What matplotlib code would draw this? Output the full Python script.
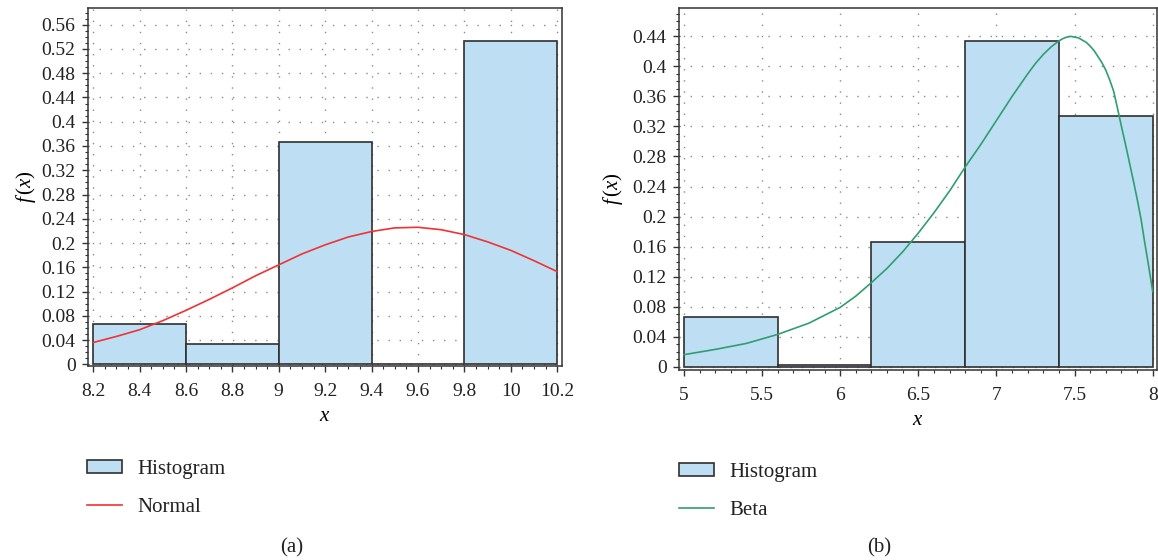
import matplotlib
matplotlib.use("Agg")
import matplotlib.pyplot as plt
from matplotlib.ticker import MultipleLocator, FuncFormatter
from matplotlib.patches import Patch
from matplotlib.lines import Line2D

plt.rcParams['font.family'] = ['Liberation Serif', 'DejaVu Serif']
plt.rcParams['mathtext.fontset'] = 'custom'
plt.rcParams['mathtext.rm'] = 'Liberation Serif'
plt.rcParams['mathtext.it'] = 'Liberation Serif:italic'

# ---- data: panel (a) ----
a_bin_edges = [8.2, 8.6, 9.0, 9.4, 9.8, 10.2]
a_heights = [0.0667, 0.0333, 0.3667, 0.0, 0.5333]
a_curve_x = [8.2, 8.3, 8.4, 8.5, 8.6, 8.7, 8.8, 8.9, 9.0, 9.1, 9.2, 9.3, 9.4,
             9.5, 9.6, 9.7, 9.8, 9.9, 10.0, 10.1, 10.2]
a_curve_y = [0.036, 0.046, 0.057, 0.072, 0.089, 0.107, 0.126, 0.146, 0.164,
             0.182, 0.197, 0.210, 0.219, 0.225, 0.226, 0.222, 0.214, 0.202,
             0.188, 0.171, 0.153]
a_curve_label = "Normal"

# ---- data: panel (b) ----
b_bin_edges = [5.0, 5.6, 6.2, 6.8, 7.4, 8.0]
b_heights = [0.0667, 0.002, 0.1667, 0.4333, 0.3333]
b_curve_x = [5.0, 5.2, 5.4, 5.6, 5.8, 6.0, 6.1, 6.2, 6.3, 6.4, 6.5, 6.6, 6.7,
             6.8, 6.85, 6.9, 6.95, 7.0, 7.05, 7.1, 7.15, 7.2, 7.25, 7.3, 7.35,
             7.4, 7.425, 7.45, 7.475, 7.5, 7.525, 7.55, 7.575, 7.6, 7.625,
             7.65, 7.675, 7.7, 7.725, 7.75, 7.775, 7.8, 7.825, 7.85, 7.875,
             7.9, 7.925, 7.95, 7.975, 8.0]
b_curve_y = [0.016, 0.023, 0.031, 0.043, 0.058, 0.079, 0.094, 0.112, 0.131,
             0.153, 0.178, 0.205, 0.234, 0.266, 0.281, 0.296, 0.312, 0.328,
             0.344, 0.360, 0.375, 0.390, 0.404, 0.416, 0.426, 0.434, 0.437,
             0.439, 0.440, 0.439, 0.438, 0.435, 0.432, 0.427, 0.421, 0.413,
             0.405, 0.395, 0.382, 0.367, 0.344, 0.320, 0.297, 0.273, 0.249,
             0.224, 0.197, 0.164, 0.133, 0.100]
b_curve_label = "Beta"

hist_label = "Histogram"
captions = ["(a)", "(b)"]

BAR_FILL = '#bedff3'
BAR_EDGE = '#2f2f2f'
RED = '#f03232'
GREEN = '#2f9e70'
SPINE = '#333333'

fig = plt.figure(figsize=(11.58, 5.6), dpi=100)

def fmt(v, pos):
    return f"{round(v, 6):g}"

def style_axes(ax, xlim, ylim, xmaj, xmin, ymaj, ymin):
    ax.set_xlim(*xlim)
    ax.set_ylim(*ylim)
    ax.xaxis.set_major_locator(MultipleLocator(xmaj))
    ax.xaxis.set_minor_locator(MultipleLocator(xmin))
    ax.yaxis.set_major_locator(MultipleLocator(ymaj))
    ax.yaxis.set_minor_locator(MultipleLocator(ymin))
    ax.xaxis.set_major_formatter(FuncFormatter(fmt))
    ax.yaxis.set_major_formatter(FuncFormatter(fmt))
    ax.tick_params(which='major', direction='out', length=4, width=1,
                   color=SPINE, labelsize=14, labelcolor='#222222', pad=5)
    ax.tick_params(axis='x', which='major', pad=8.5)
    ax.tick_params(which='minor', direction='out', length=2.2, width=0.8,
                   color=SPINE)
    ax.grid(True, which='major', color='#8a8a8a', linestyle=(0, (1, 7)),
            linewidth=1.0)
    ax.set_axisbelow(True)
    for s in ax.spines.values():
        s.set_color(SPINE)
        s.set_linewidth(1.1)

def draw_panel(ax, edges, heights, cx, cy, color):
    lefts = edges[:-1]
    widths = [edges[i + 1] - edges[i] for i in range(len(edges) - 1)]
    ax.bar(lefts, heights, width=widths, align='edge', color=BAR_FILL,
           edgecolor=BAR_EDGE, linewidth=1.2, zorder=2)
    ax.plot(cx, cy, color=color, linewidth=1.2, zorder=3)

axA = fig.add_axes([0.0760, 1 - 366 / 560, 0.4093, 358 / 560])
style_axes(axA, (8.178, 10.221), (-0.0027, 0.5875), 0.2, 0.05, 0.04, 0.01)
draw_panel(axA, a_bin_edges, a_heights, a_curve_x, a_curve_y, RED)

axB = fig.add_axes([0.5864, 1 - 370 / 560, 0.4128, 362 / 560])
style_axes(axB, (4.969, 8.028), (-0.0044, 0.4778), 0.5, 0.1, 0.04, 0.01)
draw_panel(axB, b_bin_edges, b_heights, b_curve_x, b_curve_y, GREEN)

axA.set_xlabel(r'$x$', fontsize=15, labelpad=5)
axB.set_xlabel(r'$x$', fontsize=15, labelpad=5)
axA.set_ylabel(r'$f\,(x)$', fontsize=15, labelpad=2)
axB.set_ylabel(r'$f\,(x)$', fontsize=15, labelpad=5)

def add_legend(ax, color, label, anchor):
    handles = [Patch(facecolor=BAR_FILL, edgecolor=BAR_EDGE, linewidth=1.2),
               Line2D([0], [0], color=color, linewidth=1.2)]
    leg = ax.legend(handles, [hist_label, label], loc='upper left',
                    bbox_to_anchor=anchor, bbox_transform=fig.transFigure,
                    frameon=False, fontsize=15, handlelength=1.7,
                    handleheight=0.55, handletextpad=0.7, labelspacing=0.9,
                    borderpad=0, borderaxespad=0)
    for t in leg.get_texts():
        t.set_color('#222222')

add_legend(axA, RED, a_curve_label, (87 / 1158, 1 - 460 / 560))
add_legend(axB, GREEN, b_curve_label, (679 / 1158, 1 - 463 / 560))

fig.text(292 / 1158, 1 - 548 / 560, captions[0], ha='center', va='center',
         fontsize=15, color='#222222')
fig.text(879 / 1158, 1 - 548 / 560, captions[1], ha='center', va='center',
         fontsize=15, color='#222222')

fig.savefig('out.png', dpi=100)
